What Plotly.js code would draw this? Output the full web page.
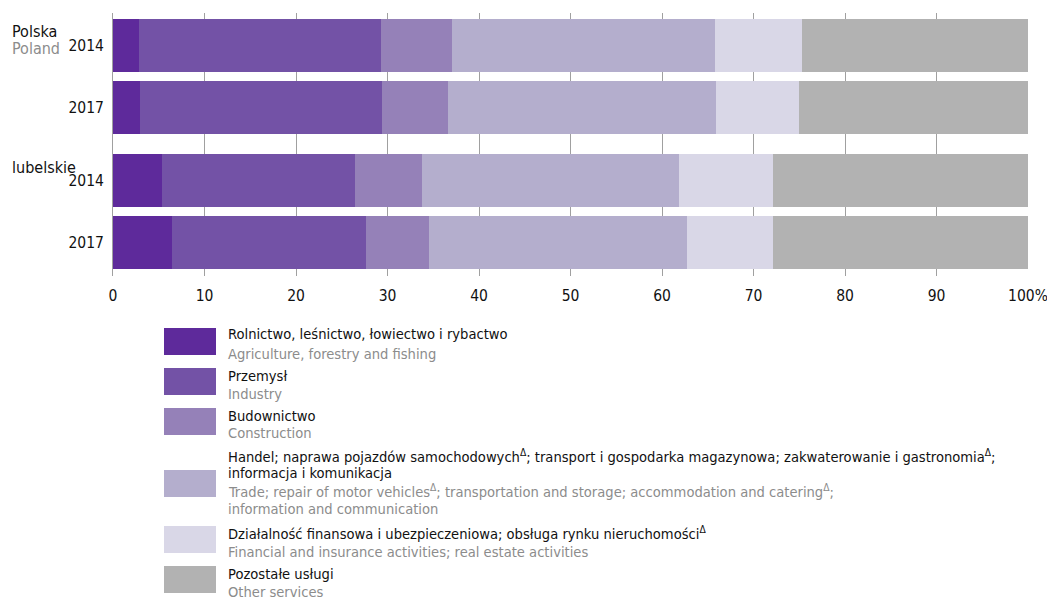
<!DOCTYPE html>
<html>
<head>
<meta charset="utf-8">
<script src="https://cdn.plot.ly/plotly-3.0.1.min.js"></script>
<style>html,body{margin:0;padding:0;background:#fff}#chart{width:1047px;height:600px}</style>
</head>
<body>
<div id="chart"></div>
<script>
// ---- data ----
var rowYears = ["2014", "2017", "2014", "2017"];
var groupNamesPl = ["Polska", "lubelskie"];
var groupNamesEn = ["Poland", ""];
var seriesPl = [
  "Rolnictwo, leśnictwo, łowiectwo i rybactwo",
  "Przemysł",
  "Budownictwo",
  "Handel; naprawa pojazdów samochodowych<sup>Δ</sup>; transport i gospodarka magazynowa; zakwaterowanie i gastronomia<sup>Δ</sup>;<br>informacja i komunikacja",
  "Działalność finansowa i ubezpieczeniowa; obsługa rynku nieruchomości<sup>Δ</sup>",
  "Pozostałe usługi"
];
var seriesEn = [
  "Agriculture, forestry and fishing",
  "Industry",
  "Construction",
  "Trade; repair of motor vehicles<sup>Δ</sup>; transportation and storage; accommodation and catering<sup>Δ</sup>;<br>information and communication",
  "Financial and insurance activities; real estate activities",
  "Other services"
];
// values per series, rows: Polska 2014, Polska 2017, lubelskie 2014, lubelskie 2017
var agriculture = [2.8, 3.0, 5.3, 6.4];
var industry    = [26.5, 26.4, 21.2, 21.2];
var construction= [7.8, 7.2, 7.3, 6.9];
var trade       = [28.7, 29.3, 28.1, 28.2];
var finance     = [9.5, 9.1, 10.2, 9.4];
var other       = [24.7, 25.0, 27.9, 28.0];
var xTickVals = [0,10,20,30,40,50,60,70,80,90,100];
var xTickText = ["0","10","20","30","40","50","60","70","80","90","100%"];

// ---- styling ----
var colors = ["#5e2a9b", "#7352a6", "#9581b8", "#b4aecd", "#d9d7e7", "#b2b2b2"];
var FONT = "'DejaVu Sans Condensed', 'Liberation Sans Narrow', sans-serif";
var GRAY = "#8c8c8c";
var rowPos = [0, 1, 2.18, 3.18];

var allSeries = [agriculture, industry, construction, trade, finance, other];
var traces = allSeries.map(function (vals, i) {
  return {
    type: "bar", orientation: "h",
    x: vals, y: rowPos, width: 0.85,
    marker: {color: colors[i], line: {width: 0}},
    name: seriesPl[i],
    showlegend: false,
    hoverinfo: "x"
  };
});

// plot area in pixels
var M = {l: 113, r: 19, t: 13, b: 324};
var W = 1047, H = 600;
var pw = W - M.l - M.r, ph = H - M.t - M.b;
function px2x(px) { return (px - M.l) / pw; }
function py2y(py) { return (H - M.b - py) / ph; }

var annotations = [];
var shapes = [];
function ann(text, px, py, color, size) {
  annotations.push({
    xref: "paper", yref: "paper", x: px2x(px), y: py2y(py),
    xanchor: "left", yanchor: "middle", showarrow: false, align: "left",
    text: text, font: {family: FONT, size: size, color: color}, borderpad: 0
  });
}
// group labels
ann(groupNamesPl[0], 11, 32, "#111", 16);
ann(groupNamesEn[0], 11, 48, GRAY, 16);
ann(groupNamesPl[1], 11, 167, "#111", 16);

// legend (manual)
var swatchTop = [328, 368, 408, 470, 526, 566];
var plLines = [[334], [375], [415], [456, 473], [533], [573]];
var enLines = [[353], [393], [433], [491, 508], [551], [591]];
for (var i = 0; i < 6; i++) {
  shapes.push({type: "rect", xref: "paper", yref: "paper",
    x0: px2x(164), x1: px2x(216), y0: py2y(swatchTop[i]), y1: py2y(swatchTop[i] + 27),
    fillcolor: colors[i], line: {width: 0}});
  var pl = seriesPl[i].split("<br>"), en = seriesEn[i].split("<br>");
  for (var k = 0; k < pl.length; k++) ann(pl[k], 227, plLines[i][k], "#111", 14.6);
  for (var k2 = 0; k2 < en.length; k2++) ann(en[k2], 227, enLines[i][k2], GRAY, 14.6);
}

var layout = {
  width: W, height: H,
  margin: M,
  barmode: "stack",
  paper_bgcolor: "#fff", plot_bgcolor: "#fff",
  font: {family: FONT, size: 15, color: "#111"},
  xaxis: {
    range: [0, 100], tickmode: "array", tickvals: xTickVals, ticktext: xTickText,
    showgrid: true, gridcolor: "#a0a0a0", gridwidth: 1, zeroline: false,
    showline: false, ticks: "", ticklabelstandoff: 8, ticklabeloverflow: "allow",
    tickfont: {family: FONT, size: 15.5, color: "#111"}, fixedrange: true
  },
  yaxis: {
    range: [3.72, -0.52], tickmode: "array", tickvals: rowPos, ticktext: rowYears,
    showgrid: false, zeroline: false, showline: true, linecolor: "#a0a0a0", linewidth: 1,
    ticks: "", ticklabelstandoff: 5,
    tickfont: {family: FONT, size: 15.5, color: "#111"}, fixedrange: true
  },
  shapes: shapes,
  annotations: annotations
};

Plotly.newPlot("chart", traces, layout, {displayModeBar: false, staticPlot: true});
</script>
</body>
</html>
